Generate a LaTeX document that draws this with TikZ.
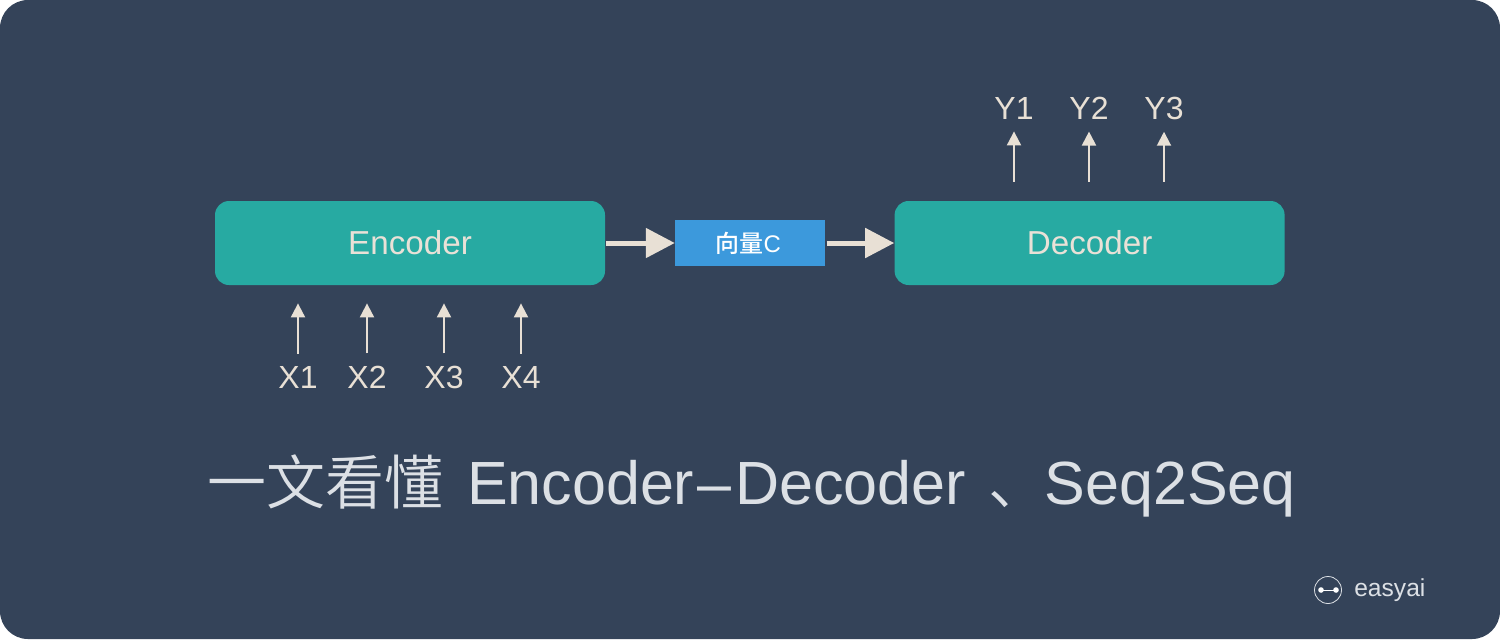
\documentclass[tikz,border=0pt]{standalone}
\usepackage{fontspec}
\setmainfont{Liberation Sans}
\newfontfamily\cjk[Scale=0.967]{Noto Sans CJK SC DemiLight}
\newfontfamily\cjkbox{Noto Sans CJK SC Medium}
\usetikzlibrary{positioning,arrows.meta}
\definecolor{bgblue}{HTML}{344359}
\definecolor{boxteal}{HTML}{27AAA2}
\definecolor{boxblue}{HTML}{3C99DC}
\definecolor{arrowcream}{HTML}{E8E0D5}
\definecolor{titlegrey}{HTML}{DCE0E5}
\tikzset{
  coder/.style={fill=boxteal, rounded corners=7pt, minimum width=195pt, minimum height=42pt, inner sep=0pt, text=arrowcream!95!white, font=\fontsize{16.6}{18}\selectfont},
  seqlabel/.style={inner sep=0pt, text=arrowcream, font=\fontsize{16}{18}\selectfont},
  thickarrow/.style={draw=arrowcream, line width=2.5pt, -{Triangle[length=14.5pt,width=14.5pt,sep=0pt]}, shorten <=0.5pt},
  thinarrow/.style={draw=arrowcream, line width=1pt, -{Triangle[length=7pt,width=7pt]}}
}
\begin{document}
\begin{tikzpicture}[x=0.5pt,y=-0.5pt]
\useasboundingbox (0,0) rectangle (1500,639);
\fill[white] (0,0) rectangle (1500,639);
\fill[bgblue, rounded corners=14pt] (0,0) rectangle (1500,639);

\node (enc)[coder] at (410,243) {Encoder};
\node (vec)[fill=boxblue, minimum width=75pt, minimum height=23pt, inner sep=0pt, text=white, font=\fontsize{12}{14}\selectfont, right=34.7pt of enc] {\hspace{-2pt}{\cjkbox 向量}C};
\node (dec)[coder, right=34.3pt of vec] {Decoder};

\draw[thickarrow] (enc) -- (vec);
\draw[thickarrow] (vec) -- (dec);

% inputs
\node (x1)[seqlabel] at (298,377) {X1};
\node (x2)[seqlabel] at (367,377) {X2};
\node (x3)[seqlabel] at (444,377) {X3};
\node (x4)[seqlabel] at (521,377) {X4};
\foreach \n in {x1,x2,x3,x4}
  \draw[thinarrow, shorten <=6pt, shorten >=9pt] (\n.north) -- (\n.north |- enc.south);

% outputs
\node (y1)[seqlabel] at (1014,108) {Y1};
\node (y2)[seqlabel] at (1089,108) {Y2};
\node (y3)[seqlabel] at (1164,108) {Y3};
\foreach \n in {y1,y2,y3}
  \draw[thinarrow, shorten <=9.5pt, shorten >=6pt] (\n.south |- dec.north) -- (\n.south);

\node (title)[inner sep=0pt, text=titlegrey, font=\fontsize{30.5}{36}\selectfont] at (751.5,486) {{\cjk 一文看懂}\hspace{3.5pt} Encoder\hspace{1.75pt}–\hspace{1.75pt}Decoder\hspace{3pt} {\cjk 、}\hspace{-1.5pt}Seq2Seq};

% logo
\node (logo)[draw=titlegrey, circle, line width=0.4pt, minimum size=13.5pt, inner sep=0pt] at (1328,590) {};
\fill[white] (1321,590) circle (1.4pt) (1336,590) circle (1.4pt);
\draw[white, line width=0.4pt] (1321,590) -- (1336,590);
\node (brand)[inner sep=0pt, text=titlegrey, font=\fontsize{12.3}{14}\selectfont, right=6pt of logo] {easyai};
\end{tikzpicture}
\end{document}
